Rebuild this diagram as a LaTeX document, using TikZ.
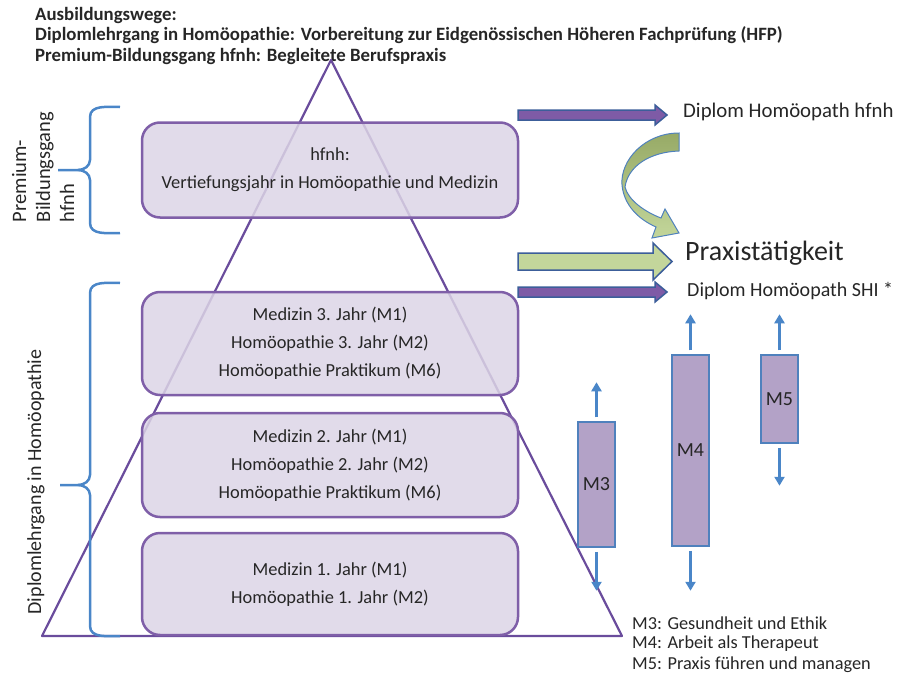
\documentclass[tikz,border=0pt]{standalone}
\usepackage{fontspec}
\setmainfont{Carlito}
\usetikzlibrary{arrows.meta}

\definecolor{boxfill}{HTML}{DCD5E6}
\definecolor{boxline}{HTML}{7F5FA8}
\definecolor{pyramidline}{HTML}{6A4C9C}
\definecolor{bracecol}{HTML}{4A86C8}
\definecolor{modfill}{HTML}{B3A2C7}
\definecolor{modline}{HTML}{4F81BD}
\definecolor{arrowpurple}{HTML}{7E5BA6}
\definecolor{arrowblue}{HTML}{3C5E9A}
\definecolor{arrowgreen}{HTML}{C3D69B}
\definecolor{curvedark}{HTML}{97AA66}
\definecolor{textgray}{HTML}{262626}

\tikzset{
  brace/.style={draw=bracecol, line width=2.5pt},
  modarrow/.style={draw=bracecol, line width=2.5pt, -{Triangle[length=9pt,width=10pt]}, shorten <=4pt},
  blockarrow/.style={draw=arrowblue, line width=1.5pt, line join=miter},
}

\begin{document}
\begin{tikzpicture}[x=1pt,y=-1pt,text=textgray]
\useasboundingbox (0,0) rectangle (913,677);

% Titel
\begin{scope}[every node/.style={anchor=west,inner sep=0,font=\bfseries\fontsize{18.8}{20}\selectfont}]
  \node (T1) at (35,15) {Ausbildungswege:};
  \node (T2) at (35,35) {Diplomlehrgang in Homöopathie: Vorbereitung zur Eidgenössischen Höheren Fachprüfung (HFP)};
  \node (T3) at (35,56) {Premium-Bildungsgang hfnh: Begleitete Berufspraxis};
\end{scope}

% Pyramide
\coordinate (top) at (331,60);
\coordinate (left) at (42,636);
\coordinate (right) at (622,636);
\draw[pyramidline, line width=2.2pt, line join=round] (top) -- (left) -- (right) -- cycle;

% Jahre
\begin{scope}[every node/.style={draw=boxline, line width=2.5pt, fill=boxfill, fill opacity=0.85, text opacity=1,
    rounded corners=18pt, minimum width=376pt, inner sep=0, align=center, font=\fontsize{18.4}{28}\selectfont}]
  \node[minimum height=95pt] (Y4) at (330,170) {hfnh:\\Vertiefungsjahr in Homöopathie und Medizin};
  \node[minimum height=103pt] (Y3) at (330,343.5) {Medizin 3. Jahr (M1)\\Homöopathie 3. Jahr (M2)\\Homöopathie Praktikum (M6)};
  \node[minimum height=104pt] (Y2) at (330,465) {Medizin 2. Jahr (M1)\\Homöopathie 2. Jahr (M2)\\Homöopathie Praktikum (M6)};
  \node[minimum height=102pt] (Y1) at (330,584) {Medizin 1. Jahr (M1)\\Homöopathie 1. Jahr (M2)};
\end{scope}

% Klammern links
\draw[brace] (120,107) to[out=180,in=90] (90,117) -- (90,160) to[out=-90,in=0] (78,170) -- (58,170);
\draw[brace] (78,170) to[out=0,in=90] (90,180) -- (90,223) to[out=-90,in=180] (120,233);
\draw[brace] (120,283) to[out=180,in=90] (90,293) -- (90,475) to[out=-90,in=0] (78,485) -- (60,485);
\draw[brace] (78,485) to[out=0,in=90] (90,495) -- (90,626) to[out=-90,in=180] (120,636);

\node[rotate=90, align=left, inner sep=0, font=\fontsize{20.5}{24}\selectfont] (premium) at (43,167) {Premium-\\Bildungsgang\\hfnh};
\node[rotate=90, inner sep=0, font=\fontsize{20}{24}\selectfont] (diplomlg) at (36,482) {Diplomlehrgang in Homöopathie};

% Abschluesse rechts
\node[anchor=west, inner sep=0, font=\fontsize{20.8}{24}\selectfont] (hfnhdip) at (683,112) {Diplom Homöopath hfnh};
\node[anchor=west, inner sep=0, font=\fontsize{28}{30}\selectfont] (praxis) at (685,253) {Praxistätigkeit};
\node[anchor=west, inner sep=0, font=\fontsize{20}{24}\selectfont] (shidip) at (687,291) {Diplom Homöopath SHI *};

\filldraw[blockarrow, fill=arrowpurple] (518,110) -- (655,110) -- (655,105) -- (667,115) -- (655,125) -- (655,120) -- (518,120) -- cycle;
\filldraw[blockarrow, fill=arrowgreen] (518,253) -- (653,253) -- (653,243) -- (672,261.5) -- (653,280) -- (653,270) -- (518,270) -- cycle;
\filldraw[blockarrow, fill=arrowpurple] (518,287) -- (655,287) -- (655,282) -- (667,292) -- (655,302) -- (655,297) -- (518,297) -- cycle;

% gebogener Pfeil
\draw[draw=modline, line width=1pt, top color=curvedark, bottom color=arrowgreen]
  (679,133) .. controls (645,133) and (620,160) .. (622,185)
  .. controls (624,205) and (638,219) .. (656,227)
  -- (652,238) -- (679,233) -- (665,209) -- (661,218)
  .. controls (645,212) and (628,200) .. (625,187)
  .. controls (628,166) and (650,152) .. (679,151) -- cycle;

% Module
\begin{scope}[every node/.style={draw=modline, fill=modfill, line width=1.5pt, minimum width=37pt, inner sep=0,
    font=\fontsize{20}{24}\selectfont}]
  \node[minimum height=125pt] (M3) at (596.5,484.5) {M3};
  \node[minimum height=191pt] (M4) at (690.5,450.5) {M4};
  \node[minimum height=88pt] (M5) at (779.5,399) {M5};
\end{scope}

\draw[modarrow] (M3.north) -- ++(0,-39);
\draw[modarrow] (M3.south) -- ++(0,43);
\draw[modarrow] (M4.north) -- ++(0,-40);
\draw[modarrow] (M4.south) -- ++(0,44);
\draw[modarrow] (M5.north) -- ++(0,-40);
\draw[modarrow] (M5.south) -- ++(0,42);

% Legende
\begin{scope}[every node/.style={anchor=west, inner sep=0, font=\fontsize{18.3}{21}\selectfont}]
  \node (L3) at (632,623) {M3: Gesundheit und Ethik};
  \node (L4) at (632,644) {M4: Arbeit als Therapeut};
  \node (L5) at (632,665) {M5: Praxis führen und managen};
\end{scope}
\end{tikzpicture}
\end{document}
